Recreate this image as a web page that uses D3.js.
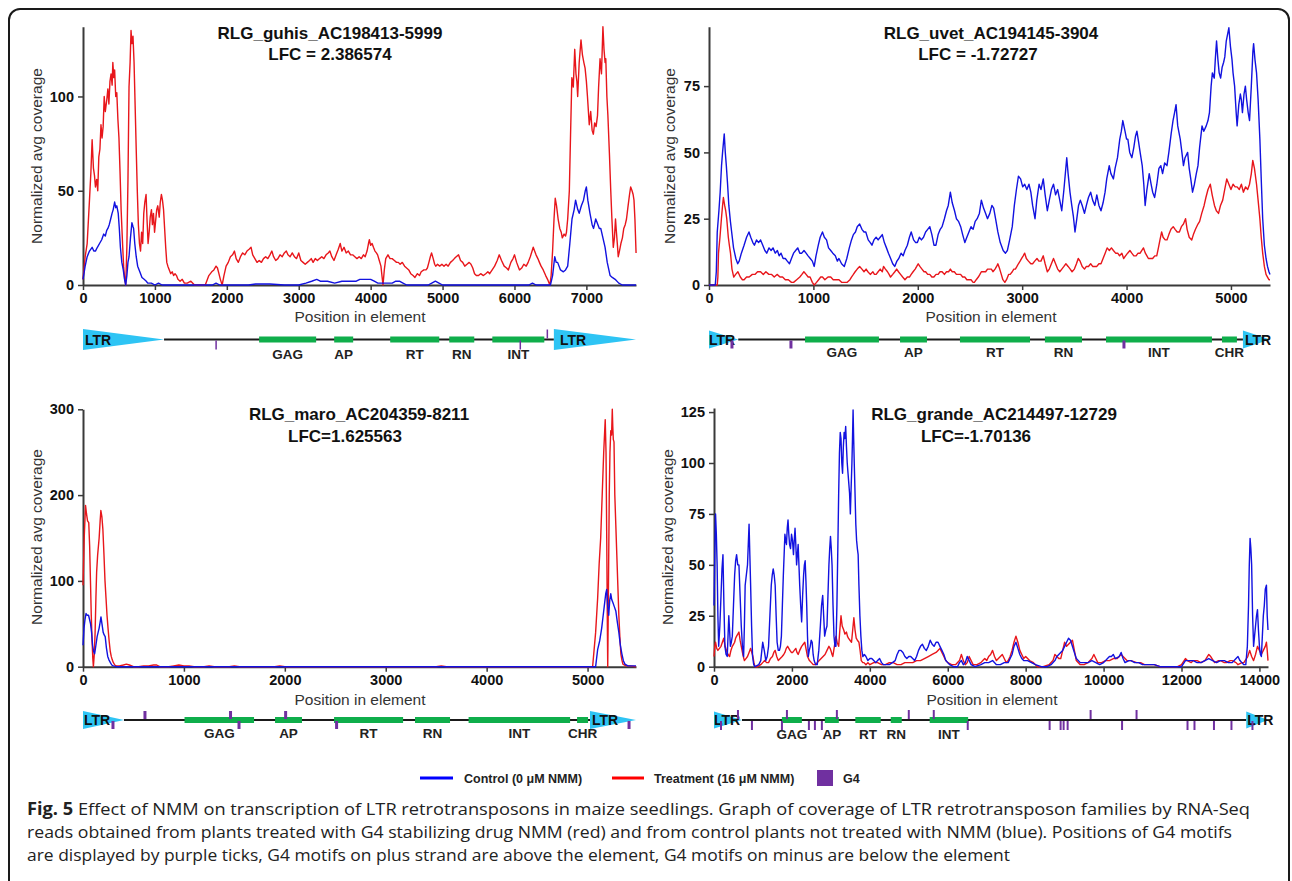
<!DOCTYPE html>
<html><head><meta charset="utf-8">
<script src="https://cdn.jsdelivr.net/npm/d3@7"></script>
<style>body{margin:0;background:#fff}svg{display:block}text{font-family:"Liberation Sans",Arial,sans-serif}text.cap{font-family:"Open Sans","Noto Sans",sans-serif}</style>
</head><body><svg id="c" width="1292" height="881"></svg>
<script>
// ---------------- DATA ----------------
const guhisRed = [[0,3],[30,15],[58,22],[90,45],[110,60],[127,77],[145,62],[160,58],[173,52],[190,56],[205,50],[220,68],[235,72],[250,85],[265,78],[280,84],[295,100],[310,92],[330,98],[346,104],[360,96],[375,108],[390,112],[405,106],[415,118],[428,110],[440,114],[455,100],[470,102],[485,88],[500,78],[515,60],[530,40],[550,22],[565,10],[580,3],[594,0],[610,20],[625,55],[640,105],[655,118],[668,135],[680,128],[695,132],[710,118],[725,95],[740,72],[755,50],[770,32],[785,22],[800,18],[815,28],[830,22],[845,38],[860,44],[877,48],[890,35],[905,22],[920,28],[935,36],[952,40],[965,32],[980,38],[995,28],[1010,34],[1025,40],[1040,42],[1060,36],[1075,44],[1090,48],[1105,45],[1120,40],[1135,30],[1150,20],[1165,12],[1180,10],[1200,8],[1220,6],[1240,7],[1260,5],[1280,6],[1300,5],[1320,3],[1350,2],[1380,3],[1410,1],[1450,1],[1500,2],[1550,0],[1600,0],[1700,0],[1720,2],[1750,5],[1790,7],[1820,8],[1850,10],[1870,9],[1890,6],[1910,3],[1935,0],[1960,5],[1990,10],[2020,12],[2050,15],[2080,16],[2106,18],[2130,14],[2160,12],[2190,15],[2220,17],[2250,16],[2280,18],[2310,19],[2337,20],[2360,16],[2390,14],[2420,12],[2450,13],[2481,12],[2510,14],[2540,15],[2570,14],[2600,16],[2626,18],[2650,15],[2680,13],[2710,14],[2740,16],[2770,15],[2800,17],[2827,18],[2850,16],[2880,15],[2910,17],[2940,15],[2970,14],[3000,17],[3030,13],[3060,12],[3090,11],[3120,12],[3150,13],[3174,14],[3200,12],[3230,14],[3260,13],[3289,14],[3320,15],[3350,14],[3380,16],[3410,17],[3433,18],[3460,15],[3490,13],[3520,16],[3550,19],[3577,22],[3600,18],[3630,20],[3660,17],[3690,18],[3720,16],[3750,16],[3780,15],[3810,14],[3840,15],[3870,14],[3900,16],[3924,15],[3950,18],[3970,22],[3982,24],[4000,21],[4020,22],[4039,20],[4060,18],[4080,17],[4097,16],[4120,13],[4143,10],[4160,4],[4172,0],[4190,8],[4210,14],[4241,16],[4270,14],[4299,14],[4330,13],[4360,12],[4385,12],[4410,11],[4440,12],[4472,10],[4500,9],[4530,8],[4558,6],[4590,5],[4616,4],[4650,6],[4680,5],[4703,7],[4740,8],[4770,8],[4789,9],[4810,12],[4830,15],[4847,17],[4870,14],[4890,11],[4905,10],[4930,11],[4960,10],[4991,11],[5020,10],[5050,11],[5078,10],[5110,12],[5140,13],[5164,14],[5190,15],[5222,16],[5250,13],[5280,12],[5309,10],[5340,11],[5370,12],[5395,11],[5420,9],[5445,6],[5470,5],[5500,5],[5530,6],[5568,5],[5600,6],[5630,7],[5655,6],[5690,8],[5724,10],[5760,13],[5788,16],[5820,13],[5857,10],[5890,9],[5915,8],[5950,12],[5980,14],[6001,16],[6030,12],[6050,10],[6070,8],[6100,9],[6130,11],[6163,10],[6190,12],[6220,15],[6245,18],[6261,20],[6280,18],[6300,16],[6325,14],[6347,12],[6370,10],[6400,8],[6434,5],[6460,3],[6492,0],[6510,5],[6530,18],[6550,35],[6567,46],[6585,42],[6607,35],[6630,30],[6650,28],[6665,25],[6690,27],[6710,26],[6723,28],[6740,35],[6763,50],[6780,80],[6798,110],[6818,105],[6838,125],[6855,112],[6868,108],[6879,100],[6900,118],[6925,130],[6945,122],[6965,118],[6982,115],[7000,108],[7015,100],[7040,85],[7060,92],[7080,82],[7097,80],[7115,86],[7135,84],[7155,90],[7170,105],[7190,120],[7210,112],[7230,137],[7245,125],[7260,118],[7270,120],[7285,100],[7299,90],[7320,70],[7339,50],[7355,35],[7374,20],[7390,25],[7405,35],[7414,30],[7430,22],[7443,15],[7460,18],[7480,22],[7501,25],[7520,30],[7540,32],[7558,35],[7580,42],[7600,48],[7616,52],[7635,50],[7650,48],[7662,45],[7675,35],[7691,17]];
const guhisBlue = [[0,3],[30,10],[58,15],[90,18],[127,20],[150,18],[173,18],[200,20],[230,22],[260,24],[288,27],[310,26],[330,29],[346,30],[365,32],[385,35],[404,38],[420,40],[440,44],[455,41],[470,42],[490,38],[505,30],[520,20],[540,12],[560,8],[578,3],[594,0],[610,5],[625,12],[640,15],[660,25],[680,33],[695,31],[704,30],[720,22],[740,15],[760,10],[790,7],[820,4],[850,3],[880,2],[900,1],[950,1],[1000,0],[1050,1],[1100,0],[1200,0],[1800,0],[1850,1],[1900,0],[2300,0],[2400,0.5],[2600,0.5],[2800,0],[3000,0],[3100,1],[3180,2],[3250,3],[3300,2],[3350,2],[3400,2],[3500,1],[3600,2],[3700,2],[3800,2],[3850,3],[3900,3],[3950,3],[4000,3],[4050,2],[4100,1],[4200,1],[4300,1],[4350,2],[4400,2],[4450,1],[4500,0],[4800,0],[4850,1],[4900,2],[4950,1],[5000,0],[6200,0],[6250,1],[6300,0],[6500,0],[6530,5],[6560,15],[6580,12],[6600,12],[6640,8],[6680,7],[6710,8],[6740,10],[6770,22],[6800,35],[6830,40],[6850,45],[6880,40],[6900,38],[6930,42],[6960,45],[6985,50],[7000,52],[7020,45],[7050,38],[7080,32],[7100,30],[7130,35],[7150,33],[7180,30],[7200,30],[7230,25],[7260,20],[7290,12],[7330,5],[7360,4],[7400,3],[7450,1],[7500,0],[7600,0],[7690,0]];

const uvetBlue = [[0,0],[60,0],[70,5],[79,20],[95,28],[107,35],[120,45],[130,50],[146,57],[156,50],[166,45],[178,38],[190,30],[205,24],[217,20],[235,14],[257,10],[275,8],[289,9],[310,12],[336,15],[360,18],[383,20],[400,18],[420,16],[435,15],[455,17],[475,16],[494,17],[515,15],[535,13],[553,12],[575,14],[595,13],[613,14],[635,12],[655,13],[672,11],[690,12],[710,10],[731,10],[750,9],[771,8],[790,10],[810,12],[830,13],[850,14],[870,12],[889,12],[910,13],[930,12],[949,11],[970,10],[990,9],[1008,7],[1025,11],[1047,15],[1065,18],[1087,20],[1105,18],[1126,17],[1145,14],[1166,13],[1186,12],[1210,11],[1230,9],[1245,10],[1270,8],[1296,7],[1320,10],[1344,14],[1365,17],[1383,19],[1403,20],[1420,22],[1443,23],[1465,21],[1485,20],[1502,20],[1525,17],[1545,16],[1561,15],[1580,17],[1601,18],[1620,17],[1640,18],[1660,19],[1680,16],[1700,14],[1719,12],[1740,10],[1760,8],[1779,7],[1800,9],[1818,10],[1840,12],[1860,11],[1877,13],[1900,15],[1920,18],[1937,20],[1960,17],[1980,16],[1996,16],[2015,18],[2035,17],[2055,18],[2075,20],[2095,21],[2115,22],[2135,19],[2155,15],[2174,15],[2195,19],[2215,21],[2233,22],[2255,25],[2275,28],[2292,30],[2312,35],[2330,31],[2352,28],[2370,25],[2390,24],[2411,22],[2430,19],[2451,16],[2470,18],[2490,20],[2510,22],[2530,21],[2550,24],[2569,25],[2590,27],[2609,32],[2630,29],[2650,27],[2668,25],[2690,27],[2710,30],[2727,29],[2745,25],[2767,20],[2790,16],[2818,13],[2840,12],[2858,13],[2880,17],[2905,22],[2925,30],[2945,36],[2964,41],[2985,40],[3005,37],[3024,38],[3045,36],[3065,38],[3083,35],[3100,30],[3123,25],[3140,32],[3162,38],[3180,36],[3202,40],[3220,34],[3241,28],[3260,32],[3280,36],[3300,38],[3320,34],[3340,36],[3360,32],[3379,28],[3400,36],[3427,48],[3440,42],[3458,35],[3475,30],[3490,26],[3506,20],[3520,24],[3540,30],[3557,32],[3575,30],[3597,27],[3615,30],[3635,33],[3656,35],[3675,32],[3696,30],[3715,34],[3735,30],[3755,28],[3775,31],[3794,35],[3810,40],[3834,45],[3850,42],[3874,40],[3890,44],[3913,48],[3935,55],[3950,58],[3964,62],[3985,58],[4000,55],[4012,55],[4030,50],[4051,48],[4070,52],[4085,56],[4099,58],[4115,54],[4130,50],[4150,45],[4165,38],[4178,30],[4195,36],[4217,42],[4235,38],[4250,35],[4269,33],[4290,38],[4310,44],[4328,45],[4345,42],[4365,46],[4387,45],[4405,50],[4427,57],[4445,62],[4460,65],[4474,68],[4490,60],[4514,55],[4530,50],[4545,45],[4560,48],[4585,50],[4600,44],[4615,40],[4632,35],[4650,38],[4668,42],[4684,45],[4700,52],[4723,60],[4740,58],[4763,60],[4780,62],[4794,65],[4810,75],[4822,80],[4840,78],[4850,85],[4862,92],[4875,85],[4887,80],[4901,78],[4915,82],[4930,84],[4941,86],[4955,92],[4970,95],[4980,97],[4995,90],[5010,85],[5020,80],[5035,75],[5050,65],[5059,60],[5075,68],[5090,72],[5099,70],[5110,65],[5125,72],[5138,75],[5150,70],[5165,65],[5178,62],[5195,75],[5210,88],[5217,91],[5230,85],[5245,80],[5260,70],[5277,55],[5290,40],[5304,25],[5320,15],[5336,10],[5350,7],[5364,5],[5374,4]];
const uvetRed = [[0,0],[79,0],[85,3],[91,12],[105,18],[119,25],[130,30],[138,33],[150,30],[160,28],[170,25],[185,18],[195,15],[206,12],[220,6],[237,3],[255,4],[277,5],[300,3],[320,2],[336,2],[360,3],[385,3],[415,4],[440,4],[465,5],[494,5],[520,4],[545,5],[573,4],[600,4],[625,3],[652,4],[680,3],[705,3],[731,2],[760,2],[790,1],[810,1],[840,2],[870,3],[890,4],[909,5],[930,4],[950,3],[968,3],[990,1],[1008,0],[1030,1],[1050,2],[1070,3],[1087,3],[1110,2],[1140,3],[1166,3],[1190,2],[1220,2],[1245,2],[1270,1],[1300,1],[1324,1],[1350,2],[1365,3],[1383,4],[1400,5],[1420,6],[1443,7],[1465,6],[1485,5],[1505,6],[1522,5],[1545,4],[1570,5],[1585,4],[1601,4],[1620,5],[1640,6],[1660,5],[1672,7],[1690,6],[1710,5],[1725,4],[1739,3],[1760,4],[1780,5],[1798,6],[1815,5],[1835,4],[1855,3],[1877,2],[1900,3],[1920,3],[1937,4],[1955,5],[1975,6],[1990,7],[2004,8],[2020,7],[2040,6],[2060,5],[2075,5],[2095,4],[2115,4],[2135,3],[2154,3],[2175,4],[2195,4],[2213,5],[2233,5],[2255,4],[2275,5],[2295,5],[2312,6],[2330,5],[2350,5],[2370,4],[2391,4],[2410,4],[2430,3],[2450,3],[2470,2],[2490,2],[2510,2],[2530,1],[2542,1],[2560,2],[2580,3],[2595,4],[2609,5],[2630,5],[2650,5],[2668,6],[2688,6],[2705,6],[2720,5],[2740,6],[2755,7],[2767,8],[2785,6],[2800,4],[2815,2],[2834,1],[2850,2],[2870,4],[2885,4],[2905,5],[2920,6],[2935,6],[2950,7],[2964,8],[2980,9],[2995,10],[3010,11],[3024,12],[3040,10],[3060,9],[3083,8],[3100,8],[3120,9],[3142,10],[3160,9],[3180,9],[3202,11],[3220,8],[3241,5],[3260,6],[3280,8],[3300,10],[3320,8],[3340,6],[3360,5],[3380,6],[3400,7],[3419,8],[3440,7],[3460,6],[3478,5],[3500,6],[3520,8],[3537,10],[3555,9],[3575,7],[3597,6],[3615,7],[3635,7],[3656,8],[3675,7],[3695,7],[3715,7],[3735,8],[3755,8],[3775,10],[3795,12],[3814,14],[3835,13],[3855,14],[3874,13],[3895,12],[3915,12],[3933,11],[3955,12],[3972,10],[3990,11],[4010,12],[4032,13],[4050,12],[4070,11],[4091,11],[4110,12],[4130,12],[4145,13],[4162,14],[4180,12],[4195,11],[4209,10],[4230,10],[4250,10],[4270,11],[4289,11],[4305,14],[4320,17],[4336,20],[4350,18],[4370,17],[4387,17],[4405,19],[4425,21],[4447,22],[4465,21],[4485,20],[4506,20],[4525,22],[4545,23],[4565,25],[4580,21],[4600,18],[4624,17],[4640,19],[4660,21],[4684,23],[4700,24],[4720,27],[4743,30],[4760,33],[4780,36],[4802,38],[4820,34],[4842,30],[4860,28],[4881,27],[4900,30],[4921,32],[4940,36],[4960,40],[4980,38],[5000,36],[5020,38],[5040,37],[5059,37],[5080,36],[5100,38],[5119,35],[5140,37],[5160,36],[5178,38],[5195,42],[5209,47],[5225,44],[5245,38],[5260,32],[5277,25],[5290,18],[5304,12],[5320,7],[5336,4],[5350,3],[5364,2],[5374,2]];

const maroRed = [[0,95],[12,150],[25,188],[35,178],[45,170],[57,168],[66,140],[74,100],[82,60],[90,30],[97,10],[103,0],[112,15],[120,40],[128,80],[135,110],[145,130],[160,150],[170,170],[177,182],[187,175],[197,160],[208,130],[218,100],[228,80],[238,60],[248,45],[259,30],[270,18],[280,12],[290,8],[300,5],[315,2],[330,1],[360,1],[400,2],[430,3],[460,2],[500,0],[550,0],[600,1],[650,1],[700,2],[730,2],[760,0],[850,0],[900,1],[950,2],[1000,1],[1050,1],[1100,0],[1200,0],[1250,1],[1300,0],[1450,0],[1500,1],[1550,0],[1900,0],[1950,1],[2000,0],[3500,0],[3550,1],[3600,0],[5050,0],[5080,40],[5100,80],[5115,120],[5130,150],[5145,200],[5160,250],[5175,288],[5183,250],[5190,150],[5196,50],[5200,0],[5206,80],[5215,200],[5222,250],[5230,275],[5238,270],[5245,300],[5250,280],[5255,265],[5262,262],[5270,200],[5280,165],[5290,130],[5300,95],[5310,60],[5320,35],[5330,15],[5340,8],[5350,3],[5380,1],[5420,1],[5480,0]];
const maroBlue = [[0,25],[10,45],[20,55],[30,62],[40,60],[55,60],[65,55],[75,50],[85,40],[95,25],[105,18],[115,15],[128,25],[140,35],[150,40],[160,45],[170,52],[178,58],[188,50],[200,40],[210,37],[220,35],[232,22],[245,12],[257,8],[270,5],[285,2],[300,1],[330,0],[5080,0],[5100,20],[5120,30],[5140,45],[5155,60],[5170,75],[5180,85],[5190,90],[5200,70],[5210,60],[5220,78],[5230,85],[5240,78],[5250,75],[5265,70],[5280,65],[5295,52],[5310,40],[5325,25],[5340,15],[5355,7],[5370,3],[5400,1],[5480,1]];

const grandeBlue = [[0,30],[20,55],[40,75],[60,65],[80,50],[100,25],[120,10],[150,20],[180,35],[205,48],[230,55],[255,30],[280,10],[310,6],[340,5],[360,15],[380,25],[400,18],[420,10],[445,12],[470,15],[500,30],[530,45],[555,52],[580,55],[610,50],[640,50],[670,35],[700,20],[730,10],[760,5],[780,20],[800,40],[830,45],[860,50],[880,60],[900,70],[920,55],[940,40],[965,20],[990,5],[1020,1],[1050,0],[1150,1],[1200,3],[1250,12],[1290,8],[1330,3],[1365,5],[1400,10],[1435,25],[1470,40],[1495,45],[1520,48],[1545,45],[1570,40],[1595,25],[1620,12],[1650,8],[1680,8],[1705,10],[1730,15],[1755,30],[1780,45],[1800,55],[1820,65],[1840,62],[1860,60],[1880,68],[1900,72],[1920,65],[1940,60],[1965,58],[1990,65],[2015,62],[2040,55],[2060,62],[2080,68],[2100,60],[2120,50],[2140,55],[2160,60],[2180,50],[2200,40],[2225,30],[2250,22],[2275,35],[2300,45],[2320,50],[2340,52],[2360,42],[2380,30],[2400,15],[2420,5],[2445,8],[2470,10],[2495,13],[2520,12],[2545,6],[2570,3],[2610,1],[2650,1],[2690,8],[2730,20],[2760,30],[2790,35],[2815,25],[2840,15],[2870,18],[2900,20],[2925,35],[2950,50],[2970,58],[2990,64],[3010,58],[3030,50],[3055,30],[3080,15],[3105,10],[3130,10],[3155,30],[3180,60],[3200,85],[3220,105],[3240,115],[3260,112],[3280,100],[3300,95],[3320,108],[3340,115],[3360,112],[3380,118],[3400,108],[3420,100],[3440,95],[3460,90],[3480,85],[3500,75],[3520,88],[3540,100],[3555,112],[3570,126],[3585,112],[3600,100],[3620,85],[3640,70],[3660,62],[3680,58],[3700,55],[3720,40],[3745,25],[3770,15],[3795,8],[3820,5],[3860,6],[3900,5],[3950,3],[4000,4],[4050,4],[4100,3],[4150,2],[4200,3],[4250,4],[4300,2],[4350,1],[4420,1],[4500,1],[4580,2],[4650,3],[4700,6],[4750,8],[4800,8],[4850,7],[4900,5],[4950,4],[5000,5],[5050,5],[5100,4],[5150,3],[5200,5],[5250,8],[5300,10],[5350,11],[5400,9],[5450,8],[5500,10],[5550,13],[5600,11],[5650,10],[5700,12],[5750,12],[5800,10],[5850,8],[5900,6],[5950,3],[6000,2],[6050,1],[6150,0],[6250,0],[6300,2],[6350,3],[6400,1],[6450,2],[6500,5],[6550,3],[6600,1],[6700,0],[6850,1],[6950,2],[7050,2],[7150,3],[7250,1],[7350,1],[7450,2],[7550,2],[7650,6],[7700,10],[7750,12],[7800,9],[7850,6],[7900,4],[7950,3],[8050,3],[8150,2],[8250,1],[8400,0],[8550,0],[8650,1],[8750,3],[8800,5],[8850,6],[8900,7],[8950,8],[9000,10],[9050,12],[9100,14],[9150,13],[9200,10],[9250,7],[9300,4],[9400,2],[9500,2],[9600,2],[9700,3],[9800,2],[9900,1],[10000,2],[10100,4],[10150,5],[10200,5],[10250,6],[10300,4],[10400,5],[10450,7],[10500,4],[10550,2],[10650,3],[10700,3],[10800,2],[10900,2],[11000,1],[11100,1],[11200,1],[11300,1],[11450,0],[11600,0],[11800,0],[12000,0],[12100,3],[12200,3],[12300,3],[12400,2],[12500,2],[12600,3],[12700,4],[12800,3],[12900,2],[13000,3],[13100,3],[13200,2],[13300,2],[13400,4],[13450,5],[13500,3],[13550,2],[13600,1],[13650,1],[13690,10],[13720,30],[13740,50],[13760,63],[13780,58],[13800,50],[13825,25],[13850,10],[13875,15],[13900,20],[13925,25],[13950,28],[13975,18],[14000,10],[14025,6],[14050,5],[14075,15],[14100,25],[14125,30],[14150,38],[14180,40],[14200,25],[14220,18]];
const grandeRed = [[0,5],[20,10],[40,12],[70,9],[100,8],[140,9],[180,10],[215,12],[250,14],[285,10],[320,8],[360,6],[400,5],[435,8],[470,10],[500,11],[530,12],[555,14],[580,15],[610,16],[640,17],[670,13],[700,10],[740,6],[780,3],[820,4],[860,5],[900,7],[940,9],[970,7],[1000,5],[1025,2],[1050,0],[1120,0],[1200,1],[1250,2],[1300,3],[1350,2],[1400,2],[1450,4],[1500,5],[1535,7],[1570,8],[1610,5],[1650,3],[1700,4],[1750,5],[1790,6],[1820,7],[1855,9],[1890,10],[1920,9],[1950,8],[1985,7],[2020,7],[2060,8],[2100,9],[2130,7],[2160,6],[2200,8],[2250,10],[2290,11],[2330,12],[2360,9],[2400,5],[2450,3],[2500,2],[2550,1],[2600,1],[2650,2],[2700,3],[2750,4],[2800,5],[2850,6],[2900,8],[2950,10],[2980,9],[3000,8],[3030,6],[3050,5],[3090,10],[3130,15],[3160,12],[3200,10],[3230,18],[3260,25],[3290,20],[3330,18],[3360,16],[3400,17],[3425,15],[3450,14],[3490,13],[3530,12],[3560,18],[3590,24],[3620,18],[3650,14],[3680,13],[3720,12],[3750,8],[3780,3],[3820,2],[3850,2],[3900,1],[3950,2],[4000,1],[4100,2],[4200,2],[4300,1],[4400,1],[4500,2],[4600,2],[4700,1],[4800,1],[4900,2],[5000,2],[5100,2],[5200,3],[5300,3],[5400,4],[5500,5],[5600,6],[5700,7],[5750,8],[5800,9],[5850,7],[5900,5],[5950,3],[6000,2],[6100,1],[6200,1],[6300,3],[6350,6],[6400,3],[6450,1],[6500,2],[6550,5],[6600,3],[6650,1],[6750,1],[6850,2],[6900,3],[6950,4],[7000,3],[7050,5],[7100,6],[7150,8],[7200,5],[7250,3],[7300,4],[7350,5],[7400,6],[7450,4],[7500,2],[7550,3],[7600,5],[7650,8],[7700,12],[7750,15],[7800,12],[7850,8],[7900,6],[7950,4],[8000,5],[8050,4],[8100,3],[8200,2],[8300,0],[8450,0],[8600,1],[8700,3],[8750,6],[8800,5],[8850,4],[8900,4],[8950,8],[9000,12],[9050,10],[9100,11],[9150,12],[9200,13],[9250,8],[9300,3],[9400,1],[9500,1],[9600,2],[9700,4],[9750,6],[9800,4],[9850,2],[9950,2],[10050,3],[10150,3],[10250,4],[10350,4],[10450,6],[10500,5],[10600,3],[10700,3],[10850,2],[10950,2],[11050,1],[11200,1],[11300,1],[11450,0],[11600,0],[11900,0],[12000,1],[12100,4],[12150,3],[12250,2],[12300,3],[12400,3],[12500,2],[12600,3],[12700,6],[12750,5],[12850,2],[12950,3],[13000,3],[13100,2],[13150,2],[13250,3],[13300,3],[13400,2],[13450,1],[13550,2],[13600,2],[13700,5],[13750,8],[13800,5],[13850,3],[13900,6],[13950,10],[14000,8],[14050,6],[14100,8],[14150,10],[14180,12],[14200,8],[14220,3]];

// element annotations [start, end] in bp
const guhisLTR = [[0,1127],[6548,7690]];
const guhisGenes = [["GAG",2449,3242],["AP",3493,3757],["RT",4272,4954],["RN",5093,5441],["INT",5692,6415]];
const guhisG4Plus = [6457];
const guhisG4Minus = [1851,6081];

const uvetLTR = [[0,280],[5115,5374]];
const uvetGenes = [["GAG",920,1628],["AP",1830,2088],["RT",2404,3075],["RN",3218,3573],["INT",3803,4818],["CHR",4914,5057]];
const uvetG4Plus = [];
const uvetG4Minus = [220,785,3975];

const maroLTR = [[0,406],[5024,5480]];
const maroGenes = [["GAG",1006,1695],["AP",1903,2170],["RT",2488,3172],["RN",3290,3637],["INT",3821,4827],["CHR",4896,5005]];
const maroG4Plus = [614,1462,2008];
const maroG4Minus = [297,1546,2513,5411];

const grandeLTR = [[0,718],[13662,14220]];
const grandeGenes = [["GAG",1743,2256],["AP",2845,3204],["RT",3627,4280],["RN",4537,4819],["INT",5536,6523]];
const grandeG4Plus = [615,1872,3154,5000,5641,9667,10846];
const grandeG4Minus = [180,974,1744,2436,2590,2769,6513,8615,8897,8974,9077,10474,12154,12333,12833,13282,13821];

const xTicksA = [0,1000,2000,3000,4000,5000,6000,7000];
const xTicksB = [0,1000,2000,3000,4000,5000];
const xTicksD = [0,2000,4000,6000,8000,10000,12000,14000];
const yTicksA = [0,50,100];
const yTicksB = [0,25,50,75];
const yTicksC = [0,100,200,300];
const yTicksD = [0,25,50,75,100,125];

const titles = ["RLG_guhis_AC198413-5999","RLG_uvet_AC194145-3904","RLG_maro_AC204359-8211","RLG_grande_AC214497-12729"];
const lfcLabels = ["LFC = 2.386574","LFC = -1.72727","LFC=1.625563","LFC=-1.70136"];
const legendLabels = ["Control (0 \u03bcM NMM)","Treatment (16 \u03bcM NMM)","G4"];
const captionBold = "Fig. 5";
const captionLines = [
 " Effect of NMM on transcription of LTR retrotransposons in maize seedlings. Graph of coverage of LTR retrotransposon families by RNA-Seq",
 "reads obtained from plants treated with G4 stabilizing drug NMM (red) and from control plants not treated with NMM (blue). Positions of G4 motifs",
 "are displayed by purple ticks, G4 motifs on plus strand are above the element, G4 motifs on minus are below the element"];

// ---------------- LAYOUT ----------------
const BLUE = "#1212e0", RED = "#e8161b", PURPLE = "#7030a0", GREEN = "#0fae4b", CYAN = "#2ec4f4", AX = "#3a3a3a";
const panels = [
 {xMax:7690, yMax:137, xt:xTicksA, yt:yTicksA, red:guhisRed, blue:guhisBlue, ltr:guhisLTR, genes:guhisGenes, g4p:guhisG4Plus, g4m:guhisG4Minus,
  x0:83, x1:636, yb:285, ytop:26.7, tX:330, tY:39, lX:330, lY:60, ylX:37, ylY:156, xlX:360, xlY:322, dY:339.5, ltrH:21, ltrTx:[2,6], gY:359, g4W:1.5, g4L:9},
 {xMax:5374, yMax:97.4, xt:xTicksB, yt:yTicksB, red:uvetRed, blue:uvetBlue, ltr:uvetLTR, genes:uvetGenes, g4p:uvetG4Plus, g4m:uvetG4Minus,
  x0:709, x1:1270, yb:285, ytop:26.7, tX:991, tY:39, lX:978, lY:60, ylX:670, ylY:156, xlX:991, xlY:322, dY:339.5, ltrH:18, ltrTx:[0,2], gY:357, g4W:3, g4L:8},
 {xMax:5480, yMax:300, xt:xTicksB, yt:yTicksC, red:maroRed, blue:maroBlue, ltr:maroLTR, genes:maroGenes, g4p:maroG4Plus, g4m:maroG4Minus,
  x0:83, x1:636, yb:666.7, ytop:409.3, tX:359, tY:420, lX:345, lY:442, ylX:37, ylY:537, xlX:360, xlY:705, dY:720, ltrH:18, ltrTx:[1,2], gY:738, g4W:3, g4L:8},
 {xMax:14220, yMax:127, xt:xTicksD, yt:yTicksD, red:grandeRed, blue:grandeBlue, ltr:grandeLTR, genes:grandeGenes, g4p:grandeG4Plus, g4m:grandeG4Minus,
  x0:714, x1:1268, yb:666.7, ytop:408, tX:994, tY:420, lX:976, lY:442, ylX:668, ylY:537, xlX:992, xlY:705, dY:720, ltrH:17, ltrTx:[0,1], gY:739, g4W:2, g4L:9}
];

const svg = d3.select("#c");
svg.append("rect").attr("width",1292).attr("height",881).attr("fill","#fff");
svg.append("rect").attr("x",9).attr("y",9).attr("width",1280).attr("height",920).attr("rx",11)
  .attr("fill","none").attr("stroke","#1a1a1a").attr("stroke-width",2);

panels.forEach((p,i) => {
  const x = d3.scaleLinear().domain([0,p.xMax]).range([p.x0,p.x1]);
  const y = d3.scaleLinear().domain([0,p.yMax]).range([p.yb,p.ytop]);
  const g = svg.append("g");
  const line = d3.line().x(d=>x(d[0])).y(d=>y(d[1]));
  const ya = g.append("g").attr("transform",`translate(${p.x0},0)`)
    .call(d3.axisLeft(y).tickValues(p.yt).tickFormat(d3.format("d")).tickSize(5).tickPadding(4).tickSizeOuter(0));
  const xa = g.append("g").attr("transform",`translate(0,${p.yb})`)
    .call(d3.axisBottom(x).tickValues(p.xt).tickFormat(d3.format("d")).tickSize(5).tickPadding(3).tickSizeOuter(0));
  [ya,xa].forEach(a=>{
    a.select(".domain").attr("stroke",AX).attr("stroke-width",2);
    a.selectAll(".tick line").attr("stroke",AX).attr("stroke-width",1.5);
    a.selectAll(".tick text").attr("fill","#111").attr("font-size",14.5).attr("font-weight","bold");
  });
  g.append("path").datum(p.red).attr("d",line).attr("fill","none").attr("stroke",RED).attr("stroke-width",1.4).attr("stroke-linejoin","round");
  g.append("path").datum(p.blue).attr("d",line).attr("fill","none").attr("stroke",BLUE).attr("stroke-width",1.4).attr("stroke-linejoin","round");
  g.append("text").attr("x",p.tX).attr("y",p.tY).attr("text-anchor","middle").attr("font-size",17).attr("font-weight","bold").attr("fill","#111").text(titles[i]);
  g.append("text").attr("x",p.lX).attr("y",p.lY).attr("text-anchor","middle").attr("font-size",17).attr("font-weight","bold").attr("fill","#111").text(lfcLabels[i]);
  g.append("text").attr("transform",`translate(${p.ylX},${p.ylY}) rotate(-90)`).attr("text-anchor","middle").attr("dy","0.35em")
    .attr("font-size",15.5).attr("fill","#333").text("Normalized avg coverage");
  g.append("text").attr("x",p.xlX).attr("y",p.xlY).attr("text-anchor","middle").attr("font-size",15.5).attr("fill","#333").text("Position in element");
  const d = g.append("g");
  d.append("line").attr("x1",x(p.ltr[0][1])).attr("x2",x(p.ltr[1][0])).attr("y1",p.dY).attr("y2",p.dY).attr("stroke","#1a1a1a").attr("stroke-width",2);
  d.selectAll("rect.gene").data(p.genes).join("rect").attr("class","gene")
    .attr("x",v=>x(v[1])).attr("width",v=>x(v[2])-x(v[1])).attr("y",p.dY-3).attr("height",6).attr("fill",GREEN);
  d.selectAll("text.gene").data(p.genes).join("text").attr("class","gene")
    .attr("x",v=>(x(v[1])+x(v[2]))/2).attr("y",p.gY).attr("text-anchor","middle").attr("font-size",13.5).attr("font-weight","bold").attr("fill","#222").text(v=>v[0]);
  d.selectAll("polygon").data(p.ltr).join("polygon")
    .attr("points",v=>`${x(v[0])},${p.dY-p.ltrH/2} ${x(v[0])},${p.dY+p.ltrH/2} ${x(v[1])},${p.dY}`).attr("fill",CYAN);
  d.selectAll("text.ltr").data(p.ltr).join("text").attr("class","ltr")
    .attr("x",(v,j)=>x(v[0])+p.ltrTx[j]).attr("y",p.dY+5).attr("font-size",14).attr("font-weight","bold").attr("fill","#111").text("LTR");
  d.selectAll("line.g4p").data(p.g4p).join("line").attr("class","g4p")
    .attr("x1",v=>x(v)).attr("x2",v=>x(v)).attr("y1",p.dY-1).attr("y2",p.dY-1-p.g4L).attr("stroke",PURPLE).attr("stroke-width",p.g4W);
  d.selectAll("line.g4m").data(p.g4m).join("line").attr("class","g4m")
    .attr("x1",v=>x(v)).attr("x2",v=>x(v)).attr("y1",p.dY+1).attr("y2",p.dY+1+p.g4L).attr("stroke",PURPLE).attr("stroke-width",p.g4W);
});

// legend
const lg = svg.append("g");
lg.append("line").attr("x1",420).attr("x2",453).attr("y1",778).attr("y2",778).attr("stroke","#0000ff").attr("stroke-width",3);
lg.append("text").attr("x",464).attr("y",782.5).attr("font-size",12.5).attr("font-weight","bold").attr("fill","#222").text(legendLabels[0]);
lg.append("line").attr("x1",612).attr("x2",644).attr("y1",778).attr("y2",778).attr("stroke","#ff0000").attr("stroke-width",3);
lg.append("text").attr("x",654).attr("y",782.5).attr("font-size",12.5).attr("font-weight","bold").attr("fill","#222").text(legendLabels[1]);
lg.append("rect").attr("x",817).attr("y",770).attr("width",16).attr("height",16).attr("fill",PURPLE);
lg.append("text").attr("x",843).attr("y",782.5).attr("font-size",12.5).attr("font-weight","bold").attr("fill","#222").text(legendLabels[2]);

// caption
const capW = [1223,1205,983];
const cap = svg.append("g").attr("fill","#222");
const t1 = cap.append("text").attr("class","cap").attr("x",27).attr("y",815).attr("font-size",17)
  .attr("textLength",capW[0]).attr("lengthAdjust","spacingAndGlyphs");
t1.append("tspan").attr("font-weight","bold").text(captionBold);
t1.append("tspan").text(captionLines[0]);
cap.append("text").attr("class","cap").attr("x",27).attr("y",838).attr("font-size",17)
  .attr("textLength",capW[1]).attr("lengthAdjust","spacingAndGlyphs").text(captionLines[1]);
cap.append("text").attr("class","cap").attr("x",27).attr("y",861).attr("font-size",17)
  .attr("textLength",capW[2]).attr("lengthAdjust","spacingAndGlyphs").text(captionLines[2]);
</script></body></html>
